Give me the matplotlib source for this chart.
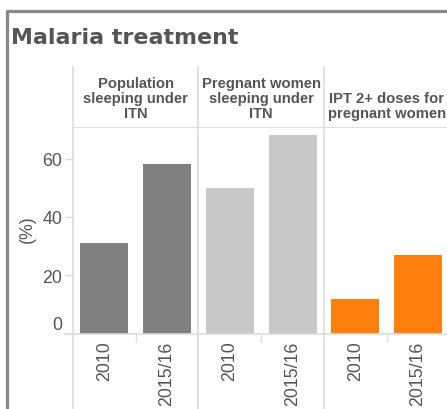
import matplotlib
matplotlib.use('Agg')
import matplotlib.pyplot as plt
import matplotlib.transforms as mtransforms

# values (%) per indicator, two survey rounds each
years = ['2010', '2015/16']
indicators = ['Population\nsleeping under\nITN',
              'Pregnant women\nsleeping under\nITN',
              'IPT 2+ doses for\npregnant women']
itn_population = [31, 58]
itn_pregnant = [50, 68]
ipt_pregnant = [12, 27]
colors = ['#808080', '#c8c8c8', '#ff7f0e']

W, H = 447, 410
TXT = '#555555'
GRID = '#dddddd'

plt.rcParams['font.family'] = ['Liberation Sans', 'DejaVu Sans']


def fx(px):
    return px / W


def fy(py):
    return 1 - py / H


fig = plt.figure(figsize=(W / 100, H / 100), dpi=100, facecolor='white')

# plot area: x from 73px (3 panels of 125.5px), y from 128px down to 334.5px
ax = fig.add_axes([fx(73), fy(334.5), 376.5 / W, (334.5 - 128) / H])

series = [itn_population, itn_pregnant, ipt_pregnant]
pos = 0
for vals, c in zip(series, colors):
    for v in vals:
        ax.bar(pos, v, width=0.765, color=c, zorder=2)
        pos += 1

ax.set_xlim(-0.5, 5.5)
ax.set_ylim(0, 70.8)

for s in ax.spines.values():
    s.set_visible(False)
ax.spines['top'].set_visible(True)
ax.spines['top'].set_color(GRID)

ax.set_yticks([0, 20, 40, 60])
ax.tick_params(axis='y', length=5.8, width=1, color=GRID, labelsize=12.8,
               labelcolor=TXT, pad=2)
for lab in ax.get_yticklabels():
    if lab.get_text() == '0':
        lab.set_va('bottom')

ax.set_xticks(range(6))
ax.set_xticklabels(years * 3, rotation=90, va='top')
ax.set_xticks([0.5, 2.5, 4.5], minor=True)
ax.tick_params(axis='x', which='major', length=0, labelsize=12.8,
               labelcolor=TXT, pad=5)
ax.tick_params(axis='x', which='minor', length=5.8, width=1, color=GRID)

# panel dividers and headers
xfig = mtransforms.blended_transform_factory(ax.transData, fig.transFigure)
for b in [-0.5, 1.5, 3.5, 5.5]:
    ax.plot([b, b], [fy(68), 0], transform=xfig, color=GRID, lw=1.2,
            clip_on=False, zorder=1)
for i, name in enumerate(indicators):
    ax.text(2 * i + 0.5, fy(121), name, transform=xfig, ha='center',
            va='bottom', fontsize=10.6, fontweight='bold', color=TXT,
            linespacing=1.07)

# x axis baseline
yfig = mtransforms.blended_transform_factory(fig.transFigure, ax.transData)
ax.plot([fx(65), 1], [0, 0], transform=yfig, color=GRID, lw=1.2,
        clip_on=False, zorder=3)

fig.text(fx(27), fy(229), '(%)', rotation=90, ha='center', va='center',
         fontsize=12.8, color=TXT)

# outer frame and title
fig.add_artist(plt.Line2D([fx(6.5), fx(6.5), 1], [0, fy(12), fy(12)],
                          transform=fig.transFigure, color='#888888', lw=2.3))
fig.text(fx(11), fy(44), 'Malaria treatment', fontsize=15.9, fontweight='bold',
         color=TXT, va='baseline', family=['DejaVu Sans'])

fig.savefig('out.png', dpi=100, facecolor='white')
